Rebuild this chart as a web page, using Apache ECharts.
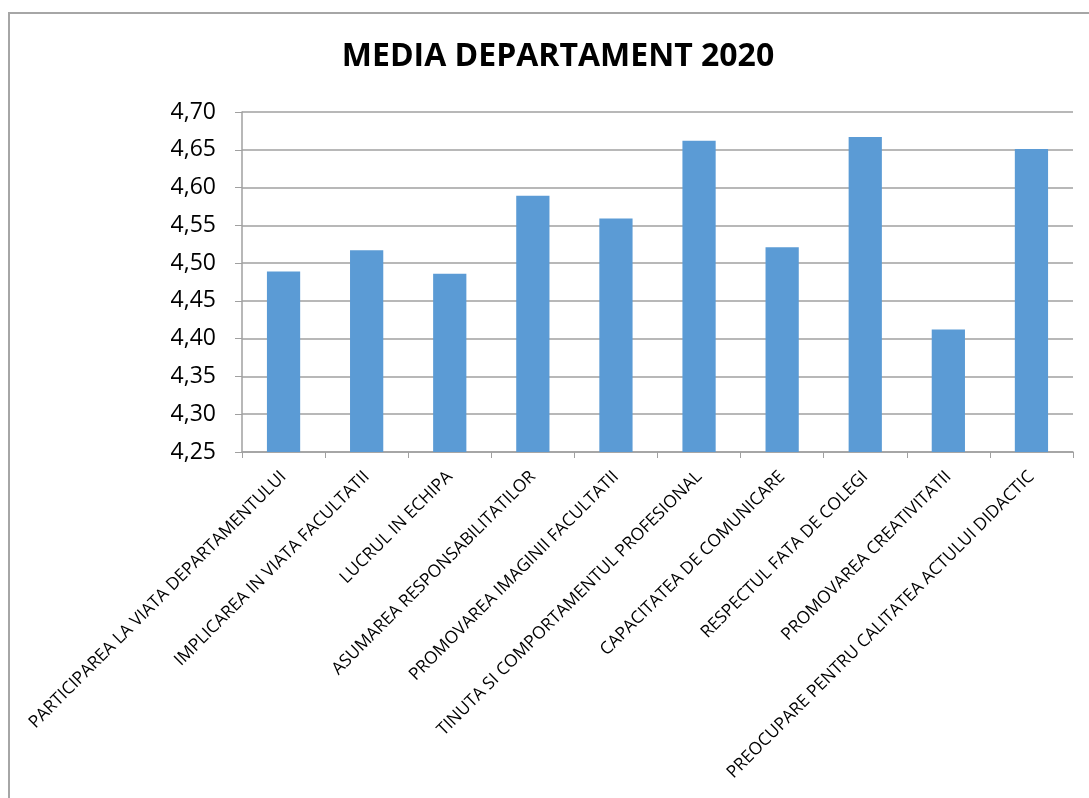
<!DOCTYPE html>
<html><head><meta charset="utf-8">
<script src="https://cdn.jsdelivr.net/npm/echarts@6/dist/echarts.min.js"></script>
<style>html,body{margin:0;padding:0;background:#fff}#c{width:1089px;height:798px;position:relative}
#frame{position:absolute;left:8px;top:12px;width:1100px;height:800px;border:2px solid #a6a6a6;box-sizing:border-box;pointer-events:none}</style>
</head><body><div id="c"></div><div id="frame"></div>
<script>
const categories = ["PARTICIPAREA LA VIATA DEPARTAMENTULUI","IMPLICAREA IN VIATA FACULTATII","LUCRUL IN ECHIPA","ASUMAREA RESPONSABILITATILOR","PROMOVAREA IMAGINII FACULTATII","TINUTA SI COMPORTAMENTUL PROFESIONAL","CAPACITATEA DE COMUNICARE","RESPECTUL FATA DE COLEGI","PROMOVAREA CREATIVITATII","PREOCUPARE PENTRU CALITATEA ACTULUI DIDACTIC"];
const values = [4.489, 4.517, 4.486, 4.589, 4.559, 4.662, 4.521, 4.667, 4.412, 4.651];
const titleText = "MEDIA DEPARTAMENT 2020";
const chart = echarts.init(document.getElementById('c'));
chart.setOption({
  animation:false,
  title:{text:titleText,left:553,textAlign:'center',top:36,textStyle:{fontFamily:'Open Sans',fontWeight:'bold',fontSize:32,color:'#000'}},
  grid:{left:242,right:16,top:112,bottom:346,containLabel:false},
  xAxis:{type:'category',data:categories,
    axisLine:{lineStyle:{color:'#a0a0a0',width:1.5}},
    axisTick:{show:true,length:6,lineStyle:{color:'#a0a0a0'}},
    axisLabel:{rotate:45,interval:0,margin:22,color:'#000',fontFamily:'Open Sans',fontSize:17.3}},
  yAxis:{type:'value',min:4.25,max:4.70,interval:0.05,
    axisLine:{show:true,lineStyle:{color:'#a0a0a0',width:1.5}},
    axisTick:{show:true,length:7,lineStyle:{color:'#a0a0a0'}},
    splitLine:{lineStyle:{color:'#a0a0a0',width:1.5}},
    axisLabel:{margin:26,color:'#000',fontFamily:'Open Sans',fontSize:23,formatter:v=>v.toFixed(2).replace('.',',')}},
  series:[{type:'bar',data:values,barWidth:'40%',itemStyle:{color:'#5B9BD5'}}]
});
</script></body></html>
